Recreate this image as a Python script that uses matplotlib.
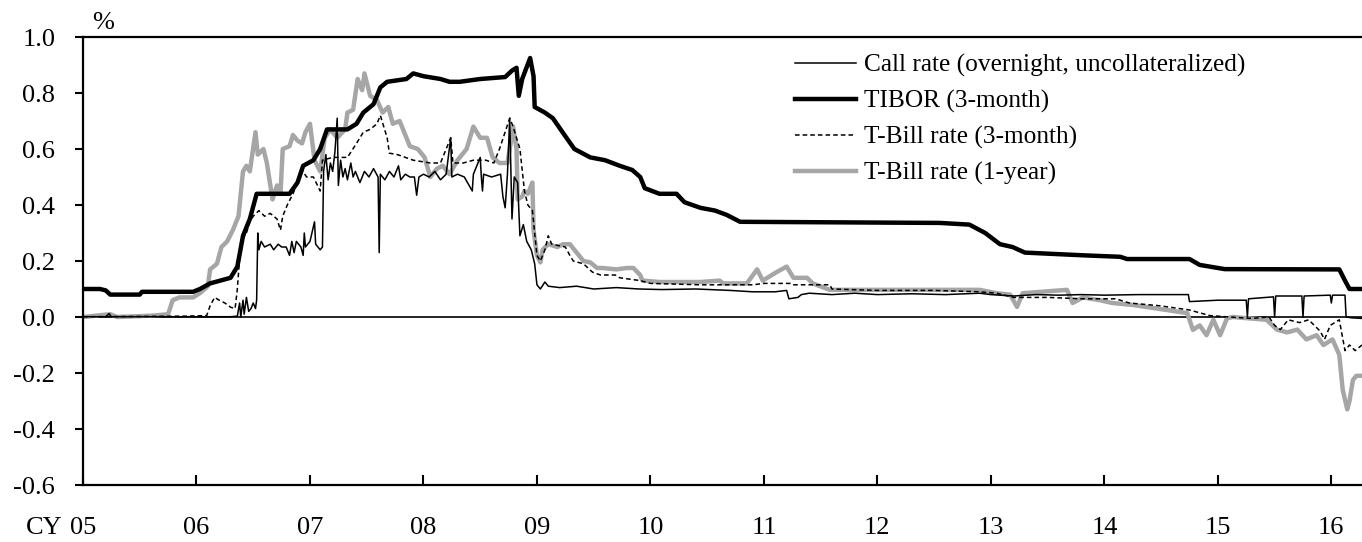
import matplotlib

matplotlib.use("Agg")
import matplotlib.pyplot as plt
from matplotlib.lines import Line2D

plt.rcParams["font.family"] = ["Liberation Serif", "DejaVu Serif"]
plt.rcParams["axes.unicode_minus"] = False

# dates are decimal calendar years, values in percent
call_dates = [
    2005.00, 2005.20, 2005.23, 2005.25, 2006.30, 2006.36, 2006.38, 2006.39, 2006.41, 2006.42,
    2006.44, 2006.46, 2006.48, 2006.50, 2006.52, 2006.53, 2006.54, 2006.55, 2006.57, 2006.60,
    2006.65, 2006.68, 2006.72, 2006.75, 2006.79, 2006.82, 2006.84, 2006.86, 2006.88, 2006.92,
    2006.94, 2006.95, 2006.96, 2007.00, 2007.04, 2007.05, 2007.09, 2007.11, 2007.12, 2007.14,
    2007.16, 2007.18, 2007.20, 2007.22, 2007.24, 2007.25, 2007.27, 2007.29, 2007.31, 2007.33,
    2007.36, 2007.38, 2007.40, 2007.44, 2007.48, 2007.52, 2007.56, 2007.60, 2007.61, 2007.62,
    2007.66, 2007.70, 2007.74, 2007.78, 2007.80, 2007.84, 2007.88, 2007.92, 2007.94, 2007.96,
    2008.00, 2008.05, 2008.10, 2008.15, 2008.20, 2008.24, 2008.25, 2008.30, 2008.36, 2008.43,
    2008.44, 2008.50, 2008.51, 2008.52, 2008.53, 2008.60, 2008.68, 2008.70, 2008.72, 2008.74,
    2008.76, 2008.78, 2008.80, 2008.83, 2008.85, 2008.88, 2008.91, 2008.95, 2008.98, 2009.00,
    2009.03, 2009.07, 2009.10, 2009.20, 2009.35, 2009.50, 2009.70, 2009.90, 2010.10, 2010.40,
    2010.70, 2010.90, 2011.10, 2011.20, 2011.22, 2011.30, 2011.33, 2011.40, 2011.60, 2011.80,
    2012.00, 2012.30, 2012.60, 2012.90, 2013.00, 2013.20, 2013.40, 2013.60, 2013.80, 2014.00,
    2014.30, 2014.50, 2014.74, 2014.75, 2015.00, 2015.25, 2015.26, 2015.27, 2015.49, 2015.50,
    2015.51, 2015.74, 2015.75, 2015.76, 2015.99, 2016.00, 2016.01, 2016.12, 2016.13, 2016.18,
    2016.27,
]
call_rate = [
    0.001, 0.001, 0.012, 0.001, 0.001, 0.003, 0.05, 0.0, 0.06, 0.01,
    0.07, 0.02, 0.03, 0.05, 0.03, 0.06, 0.30, 0.24, 0.27, 0.25,
    0.26, 0.24, 0.26, 0.25, 0.25, 0.22, 0.27, 0.23, 0.27, 0.25,
    0.22, 0.30, 0.25, 0.27, 0.34, 0.26, 0.24, 0.25, 0.52, 0.58,
    0.49, 0.55, 0.52, 0.59, 0.71, 0.47, 0.56, 0.50, 0.53, 0.49,
    0.55, 0.50, 0.52, 0.48, 0.52, 0.50, 0.53, 0.50, 0.23, 0.51,
    0.49, 0.52, 0.50, 0.54, 0.49, 0.51, 0.50, 0.50, 0.435, 0.50,
    0.51, 0.50, 0.52, 0.49, 0.51, 0.64, 0.50, 0.51, 0.50, 0.45,
    0.51, 0.57, 0.50, 0.45, 0.51, 0.50, 0.51, 0.43, 0.39, 0.51,
    0.71, 0.35, 0.50, 0.48, 0.29, 0.33, 0.27, 0.24, 0.19, 0.115,
    0.10, 0.125, 0.11, 0.105, 0.11, 0.10, 0.105, 0.10, 0.098, 0.10,
    0.095, 0.09, 0.09, 0.095, 0.065, 0.07, 0.08, 0.085, 0.08, 0.085,
    0.08, 0.083, 0.08, 0.085, 0.08, 0.075, 0.08, 0.078, 0.08, 0.078,
    0.08, 0.08, 0.08, 0.055, 0.06, 0.06, 0.0, 0.065, 0.072, 0.0,
    0.075, 0.075, 0.0, 0.075, 0.078, 0.05, 0.078, 0.078, 0.0, -0.003,
    -0.005,
]

tibor_dates = [
    2005.00, 2005.15, 2005.20, 2005.24, 2005.50, 2005.52, 2005.97, 2006.03, 2006.12, 2006.30,
    2006.36, 2006.41, 2006.47, 2006.53, 2006.82, 2006.89, 2006.94, 2007.03, 2007.09, 2007.15,
    2007.33, 2007.41, 2007.47, 2007.56, 2007.62, 2007.68, 2007.85, 2007.91, 2008.00, 2008.15,
    2008.23, 2008.32, 2008.50, 2008.72, 2008.78, 2008.82, 2008.84, 2008.87, 2008.94, 2008.97,
    2008.98, 2009.07, 2009.14, 2009.26, 2009.33, 2009.47, 2009.60, 2009.73, 2009.84, 2009.91,
    2009.95, 2010.08, 2010.23, 2010.30, 2010.44, 2010.57, 2010.67, 2010.79, 2012.55, 2012.81,
    2012.95, 2013.08, 2013.19, 2013.30, 2013.83, 2014.14, 2014.20, 2014.75, 2014.84, 2015.06,
    2016.07, 2016.12, 2016.16, 2016.27,
]
tibor_3m = [
    0.10, 0.10, 0.095, 0.08, 0.08, 0.09, 0.09, 0.10, 0.12, 0.14,
    0.18, 0.29, 0.35, 0.44, 0.44, 0.48, 0.54, 0.56, 0.60, 0.67,
    0.67, 0.69, 0.73, 0.76, 0.82, 0.84, 0.85, 0.87, 0.86, 0.85,
    0.84, 0.84, 0.85, 0.857, 0.88, 0.89, 0.79, 0.85, 0.925, 0.86,
    0.75, 0.73, 0.71, 0.64, 0.60, 0.57, 0.56, 0.54, 0.525, 0.50,
    0.46, 0.44, 0.44, 0.41, 0.39, 0.38, 0.365, 0.34, 0.336, 0.33,
    0.30, 0.26, 0.25, 0.23, 0.22, 0.215, 0.207, 0.207, 0.186, 0.171,
    0.17, 0.13, 0.10, 0.10,
]

tb3_dates = [
    2005.00, 2005.50, 2005.90, 2006.09, 2006.12, 2006.16, 2006.20, 2006.25, 2006.30, 2006.34,
    2006.36, 2006.38, 2006.41, 2006.44, 2006.47, 2006.50, 2006.55, 2006.60, 2006.65, 2006.71,
    2006.74, 2006.76, 2006.80, 2006.85, 2006.89, 2006.93, 2006.97, 2007.03, 2007.09, 2007.11,
    2007.20, 2007.33, 2007.41, 2007.47, 2007.53, 2007.59, 2007.62, 2007.68, 2007.70, 2007.77,
    2007.91, 2008.06, 2008.15, 2008.24, 2008.26, 2008.35, 2008.44, 2008.55, 2008.62, 2008.67,
    2008.76, 2008.79, 2008.85, 2008.89, 2008.92, 2008.96, 2009.00, 2009.03, 2009.07, 2009.10,
    2009.13, 2009.25, 2009.29, 2009.32, 2009.41, 2009.49, 2009.56, 2009.69, 2009.73, 2009.91,
    2010.00, 2010.44, 2010.90, 2011.00, 2011.23, 2011.25, 2011.58, 2011.60, 2012.00, 2012.50,
    2012.90, 2013.05, 2013.20, 2013.50, 2013.80, 2014.10, 2014.22, 2014.49, 2014.75, 2014.93,
    2015.10, 2015.30, 2015.45, 2015.50, 2015.55, 2015.62, 2015.72, 2015.80, 2015.90, 2015.94,
    2015.99, 2016.07, 2016.12, 2016.16, 2016.21, 2016.27,
]
tbill_3m = [
    0.001, 0.002, 0.003, 0.005, 0.04, 0.07, 0.06, 0.05, 0.035, 0.03,
    0.10, 0.21, 0.28, 0.30, 0.34, 0.36, 0.38, 0.36, 0.37, 0.35,
    0.31, 0.36, 0.40, 0.44, 0.48, 0.525, 0.50, 0.50, 0.45, 0.56,
    0.57, 0.57, 0.62, 0.66, 0.67, 0.69, 0.72, 0.64, 0.585, 0.58,
    0.56, 0.55, 0.55, 0.64, 0.55, 0.55, 0.56, 0.56, 0.55, 0.60,
    0.71, 0.68, 0.60, 0.45, 0.40, 0.38, 0.22, 0.20, 0.24, 0.29,
    0.26, 0.25, 0.22, 0.20, 0.19, 0.16, 0.15, 0.15, 0.14, 0.13,
    0.12, 0.115, 0.115, 0.12, 0.12, 0.115, 0.115, 0.10, 0.095, 0.095,
    0.09, 0.085, 0.07, 0.07, 0.065, 0.065, 0.05, 0.04, 0.025, 0.005,
    0.0, -0.005, 0.0, -0.03, -0.045, -0.01, -0.02, -0.01, -0.05, -0.08,
    -0.03, -0.01, -0.12, -0.10, -0.12, -0.10,
]

tb1_dates = [
    2005.00, 2005.24, 2005.30, 2005.62, 2005.75, 2005.79, 2005.85, 2005.97, 2006.03, 2006.10,
    2006.12, 2006.18, 2006.22, 2006.27, 2006.32, 2006.37, 2006.41, 2006.44, 2006.47, 2006.52,
    2006.54, 2006.59, 2006.62, 2006.67, 2006.71, 2006.74, 2006.76, 2006.82, 2006.85, 2006.89,
    2006.93, 2006.96, 2007.00, 2007.04, 2007.09, 2007.13, 2007.18, 2007.24, 2007.31, 2007.33,
    2007.38, 2007.42, 2007.46, 2007.48, 2007.53, 2007.59, 2007.64, 2007.69, 2007.73, 2007.79,
    2007.84, 2007.88, 2007.95, 2008.01, 2008.06, 2008.12, 2008.17, 2008.23, 2008.30, 2008.38,
    2008.44, 2008.50, 2008.56, 2008.61, 2008.67, 2008.74, 2008.76, 2008.79, 2008.82, 2008.83,
    2008.87, 2008.89, 2008.92, 2008.96, 2008.97, 2009.00, 2009.03, 2009.05, 2009.10, 2009.18,
    2009.23, 2009.29, 2009.35, 2009.41, 2009.47, 2009.53, 2009.58, 2009.70, 2009.79, 2009.85,
    2009.91, 2009.93, 2010.08, 2010.44, 2010.61, 2010.64, 2010.85, 2010.94, 2010.99, 2011.11,
    2011.20, 2011.26, 2011.38, 2011.43, 2011.58, 2012.02, 2012.90, 2013.05, 2013.17, 2013.23,
    2013.28, 2013.67, 2013.72, 2013.81, 2013.96, 2014.07, 2014.25, 2014.55, 2014.73, 2014.78,
    2014.84, 2014.90, 2014.96, 2015.02, 2015.08, 2015.13, 2015.43, 2015.52, 2015.61, 2015.70,
    2015.78, 2015.87, 2015.93, 2016.01, 2016.07, 2016.10, 2016.14, 2016.16, 2016.19, 2016.22,
    2016.27,
]
tbill_1y = [
    0.0, 0.01, 0.0, 0.005, 0.01, 0.06, 0.07, 0.07, 0.085, 0.11,
    0.17, 0.19, 0.25, 0.27, 0.31, 0.36, 0.52, 0.54, 0.52, 0.66,
    0.58, 0.60, 0.55, 0.42, 0.47, 0.44, 0.60, 0.61, 0.65, 0.63,
    0.62, 0.66, 0.69, 0.56, 0.52, 0.64, 0.67, 0.64, 0.67, 0.73,
    0.74, 0.85, 0.81, 0.87, 0.79, 0.775, 0.73, 0.75, 0.69, 0.70,
    0.65, 0.61, 0.60, 0.57, 0.50, 0.53, 0.54, 0.51, 0.56, 0.60,
    0.68, 0.64, 0.64, 0.57, 0.55, 0.55, 0.60, 0.68, 0.60, 0.42,
    0.43, 0.45, 0.44, 0.48, 0.31, 0.22, 0.195, 0.24, 0.26, 0.25,
    0.26, 0.26, 0.23, 0.20, 0.195, 0.175, 0.175, 0.17, 0.175, 0.175,
    0.15, 0.13, 0.125, 0.125, 0.13, 0.12, 0.12, 0.17, 0.13, 0.16,
    0.18, 0.14, 0.14, 0.12, 0.097, 0.097, 0.097, 0.085, 0.08, 0.036,
    0.085, 0.097, 0.05, 0.07, 0.06, 0.05, 0.043, 0.025, 0.014, -0.046,
    -0.03, -0.065, -0.01, -0.065, -0.005, 0.0, -0.01, -0.045, -0.055, -0.045,
    -0.08, -0.065, -0.10, -0.08, -0.135, -0.26, -0.33, -0.30, -0.225, -0.21,
    -0.21,
]

years = list(range(2005, 2017))
year_labels = [f"{y % 100:02d}" for y in years]
y_ticks = [-0.6, -0.4, -0.2, 0.0, 0.2, 0.4, 0.6, 0.8, 1.0]

GRAY = "#a6a6a6"
FS = 19

fig = plt.figure(figsize=(13.62, 5.42), dpi=100)
ax = fig.add_axes([83 / 1362, 1 - 485 / 542, 1 - 83 / 1362, (485 - 37) / 542])

ax.axhline(0, color="black", lw=1.2, zorder=1)
ax.plot(tb1_dates, tbill_1y, color=GRAY, lw=3.2, zorder=2)
ax.plot(tibor_dates, tibor_3m, color="black", lw=3.2, zorder=3)
ax.plot(tb3_dates, tbill_3m, color="black", lw=1.1, ls=(0, (3, 2)), zorder=4)
ax.plot(call_dates, call_rate, color="black", lw=1.1, zorder=5)

ax.set_xlim(2005, 2016.27)
ax.set_ylim(-0.6, 1.0)
ax.set_xticks(years)
ax.set_xticklabels(year_labels)
ax.set_yticks(y_ticks)
ax.set_yticklabels([f"{v:.1f}" for v in y_ticks])
ax.tick_params(axis="x", direction="in", length=7, width=1.5, pad=23, labelsize=FS)
ax.tick_params(axis="y", direction="out", length=6, width=1.5, pad=14, labelsize=FS)
for side in ("left", "bottom", "top"):
    ax.spines[side].set_linewidth(1.6)
ax.spines["right"].set_visible(False)

# "CY" sits on the same line as the year labels, just left of "05"
ax.annotate("CY", xy=(0, 0), xycoords="axes fraction", xytext=(-14.5, -23),
            textcoords="offset points", ha="right", va="top", fontsize=FS)
ax.text(0.016, 1.006, "%", transform=ax.transAxes, ha="center", va="bottom", fontsize=FS)

handles = [
    Line2D([0], [0], color="black", lw=1.1),
    Line2D([0], [0], color="black", lw=3.2),
    Line2D([0], [0], color="black", lw=1.1, ls=(0, (3, 2))),
    Line2D([0], [0], color=GRAY, lw=3.2),
]
labels = [
    "Call rate (overnight, uncollateralized)",
    "TIBOR (3-month)",
    "T-Bill rate (3-month)",
    "T-Bill rate (1-year)",
]
ax.legend(handles, labels, loc="upper left", bbox_to_anchor=(0.557, 0.962), frameon=False,
          fontsize=18.3, borderpad=0, borderaxespad=0, handlelength=2.4, handletextpad=0.3,
          labelspacing=0.5)

fig.savefig("out.png", dpi=100)
